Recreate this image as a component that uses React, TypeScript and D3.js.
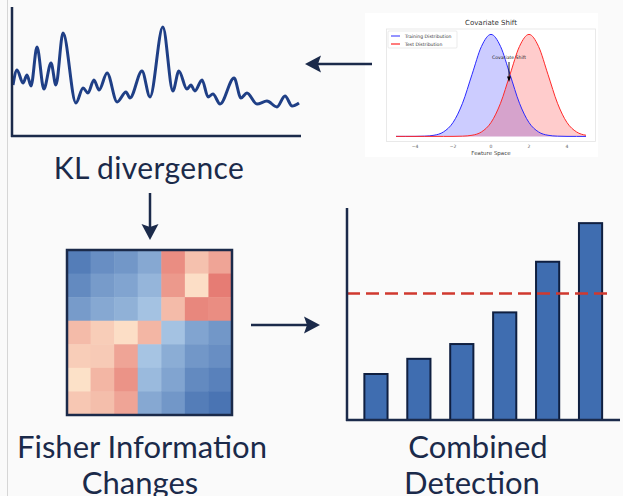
import React from "react";
import * as d3 from "d3";

const W = 623;
const H = 496;

// KL divergence trace (time step, value)
const klT = [0, 1.4, 3.5, 4.9, 6.3, 8.4, 10.8, 13.3, 15.0, 17.5, 22.0, 24.5, 26.2, 28.3, 30.1, 32.9, 36.4, 39.5, 40.9, 45.1, 47.9, 52.4, 55.9, 58.0, 60.8, 62.2, 63.6, 66.1, 68.2, 69.9, 72.4, 77.3, 79.7, 81.8, 85.3, 88.8, 92.3, 95.1, 97.6, 100];
const klV = [0.398, 0.516, 0.414, 0.477, 0.391, 0.695, 0.367, 0.57, 0.398, 0.805, 0.258, 0.375, 0.336, 0.438, 0.359, 0.492, 0.266, 0.344, 0.297, 0.508, 0.305, 0.852, 0.352, 0.508, 0.367, 0.398, 0.352, 0.438, 0.305, 0.328, 0.25, 0.453, 0.297, 0.336, 0.25, 0.273, 0.227, 0.313, 0.234, 0.258];

// Covariate shift inset densities
const featX = [-5, -4.5, -4, -3.5, -3, -2.5, -2, -1.5, -1, -0.5, 0, 0.5, 1, 1.5, 2, 2.5, 3, 3.5, 4, 4.5, 5];
const trainDens = [0, 0, 0.0001, 0.0009, 0.0044, 0.0175, 0.054, 0.1295, 0.242, 0.3521, 0.3989, 0.3521, 0.242, 0.1295, 0.054, 0.0175, 0.0044, 0.0009, 0.0001, 0, 0];
const testDens = [0, 0, 0, 0, 0, 0, 0.0001, 0.0009, 0.0044, 0.0175, 0.054, 0.1295, 0.242, 0.3521, 0.3989, 0.3521, 0.242, 0.1295, 0.054, 0.0175, 0.0044];
const featTicks = [-4, -2, 0, 2, 4];

// Fisher information change matrix
const fisher = [
  [-0.9, -0.7, -0.6, -0.4, 0.75, 0.3, 0.55],
  [-0.75, -0.55, -0.45, -0.25, 0.65, 0.05, 0.9],
  [-0.55, -0.4, -0.3, -0.1, 0.35, 0.8, 0.75],
  [0.35, 0.2, 0.05, 0.4, -0.1, -0.45, -0.6],
  [0.2, 0.22, 0.55, -0.08, -0.35, -0.6, -0.7],
  [0.03, 0.4, 0.7, -0.2, -0.45, -0.75, -0.85],
  [0.25, 0.33, 0.55, -0.4, -0.6, -0.9, -1.0],
];

// Combined detection scores
const detCats = ["1", "2", "3", "4", "5", "6"];
const detScores = [2.18, 2.9, 3.6, 5.1, 7.5, 9.33];
const detThreshold = 6;

const NAVY = "#1b2a4a";
const FONT = "Lato, 'Open Sans', sans-serif";

function ArrowH({ x1, x2, y }: { x1: number; x2: number; y: number }) {
  const dir = Math.sign(x2 - x1);
  const len = 16, hw = 8.5, notch = 3;
  const back = x2 - dir * len;
  const head = `M${x2},${y} L${back},${y - hw} L${back + dir * notch},${y} L${back},${y + hw} Z`;
  return (
    <g>
      <line x1={x1} y1={y} x2={back + dir * notch} y2={y} stroke={NAVY} strokeWidth={2.5} />
      <path d={head} fill={NAVY} />
    </g>
  );
}

function ArrowV({ x, y1, y2 }: { x: number; y1: number; y2: number }) {
  const len = 16, hw = 8.5, notch = 3;
  const back = y2 - len;
  const head = `M${x},${y2} L${x - hw},${back} L${x},${back + notch} L${x + hw},${back} Z`;
  return (
    <g>
      <line x1={x} y1={y1} x2={x} y2={back + notch} stroke={NAVY} strokeWidth={2.5} />
      <path d={head} fill={NAVY} />
    </g>
  );
}

export default function App() {
  // KL panel
  const klX = d3.scaleLinear().domain([0, 100]).range([13, 299]);
  const klY = d3.scaleLinear().domain([0, 1]).range([136, 8]);
  const klLine = d3
    .line<number>()
    .x((_, i) => klX(klT[i]))
    .y((d) => klY(d))
    .curve(d3.curveMonotoneX)(klV) as string;

  // Inset
  const fx = d3.scaleLinear().domain([-5.5, 5.5]).range([386.5, 595.5]);
  const fy = d3.scaleLinear().domain([-0.02, 0.42]).range([141.5, 29]);
  const area = (dens: number[]) =>
    d3
      .area<number>()
      .x((_, i) => fx(featX[i]))
      .y0(fy(0))
      .y1((d) => fy(d))
      .curve(d3.curveMonotoneX)(dens) as string;
  const line = (dens: number[]) =>
    d3
      .line<number>()
      .x((_, i) => fx(featX[i]))
      .y((d) => fy(d))
      .curve(d3.curveMonotoneX)(dens) as string;

  // Heatmap
  const idx = d3.range(7).map(String);
  const hx = d3.scaleBand().domain(idx).range([67, 232]);
  const hy = d3.scaleBand().domain(idx).range([250, 415]);
  const blue = d3.scaleLinear<string>().domain([0, 1]).range(["#aecbe7", "#4a74b3"]).interpolate(d3.interpolateRgb);
  const red = d3.scaleLinear<string>().domain([0, 1]).range(["#fde4cb", "#e3706a"]).interpolate(d3.interpolateRgb);
  const heatColor = (v: number) => (v < 0 ? blue(-v) : red(v));

  // Bars
  const bx = d3.scaleBand().domain(detCats).range([354.5, 612]).paddingInner(0.46).paddingOuter(0.23);
  const by = d3.scaleLinear().domain([0, 10]).range([420, 209]);

  const small = "'DejaVu Sans', sans-serif";

  return (
    <svg
      width={W}
      height={H}
      style={{ position: "fixed", left: 0, top: 0, display: "block" }}
      fontFamily={FONT}
    >
      <rect x={0} y={0} width={W} height={H} fill="#fafafa" />
      <line x1={7.5} y1={0} x2={7.5} y2={H} stroke="#d6d6d6" strokeWidth={1} />

      {/* KL panel */}
      <path d={klLine} fill="none" stroke="#1f3f86" strokeWidth={3} strokeLinejoin="round" />
      <line x1={12} y1={7} x2={12} y2={137} stroke={NAVY} strokeWidth={2.5} />
      <line x1={11} y1={136} x2={301} y2={136} stroke={NAVY} strokeWidth={2.5} />
      <text x={149} y={179} textAnchor="middle" fontSize={30} letterSpacing={0.4} fill={NAVY}>
        KL divergence
      </text>

      {/* Inset */}
      <rect x={365} y={13} width={233} height={144} fill="#ffffff" />
      <rect x={386.5} y={29} width={209} height={112.5} fill="none" stroke="#e4e4e4" strokeWidth={0.8} />
      <text x={491} y={25} textAnchor="middle" fontSize={7} fill="#333" fontFamily={small}>
        Covariate Shift
      </text>
      <path d={area(trainDens)} fill="rgba(0,0,255,0.2)" />
      <path d={area(testDens)} fill="rgba(255,0,0,0.2)" />
      <path d={line(trainDens)} fill="none" stroke="#2a2aff" strokeWidth={1} />
      <path d={line(testDens)} fill="none" stroke="#ff2a2a" strokeWidth={1} />
      {featTicks.map((t) => (
        <text key={t} x={fx(t)} y={147.5} textAnchor="middle" fontSize={4.5} fill="#555" fontFamily={small}>
          {t < 0 ? `\u2212${-t}` : t}
        </text>
      ))}
      <text x={491} y={155} textAnchor="middle" fontSize={5.5} fill="#444" fontFamily={small}>
        Feature Space
      </text>
      <rect x={388} y={31} width={69} height={17} fill="#fff" stroke="#dddddd" strokeWidth={0.6} rx={1} />
      <line x1={391} y1={36} x2={400} y2={36} stroke="#7070ff" strokeWidth={1.5} />
      <line x1={391} y1={44} x2={400} y2={44} stroke="#ff5050" strokeWidth={1.5} />
      <text x={405} y={37.8} fontSize={4.6} fill="#333" fontFamily={small}>Training Distribution</text>
      <text x={405} y={45.8} fontSize={4.6} fill="#333" fontFamily={small}>Test Distribution</text>
      <text x={509} y={59} textAnchor="middle" fontSize={4.6} fill="#222" fontFamily={small}>
        Covariate Shift
      </text>
      <line x1={509} y1={62} x2={509} y2={78} stroke="#000" strokeWidth={0.9} />
      <path d="M509,82 L507,76.5 L511,76.5 Z" fill="#000" />

      {/* Arrows */}
      <ArrowH x1={372} x2={305} y={64} />
      <ArrowV x={150} y1={193} y2={240} />
      <ArrowH x1={251} x2={320} y={325} />

      {/* Heatmap */}
      {fisher.map((row, r) =>
        row.map((v, c) => (
          <rect
            key={`${r}-${c}`}
            x={hx(String(c))!}
            y={hy(String(r))!}
            width={hx.bandwidth() + 0.5}
            height={hy.bandwidth() + 0.5}
            fill={heatColor(v)}
          />
        ))
      )}
      <rect x={67} y={250} width={165} height={165} fill="none" stroke={NAVY} strokeWidth={2.5} />
      <text x={142} y={458} textAnchor="middle" fontSize={31} fill={NAVY}>
        Fisher Information
      </text>
      <text x={140} y={494} textAnchor="middle" fontSize={31} fill={NAVY}>
        Changes
      </text>

      {/* Bars */}
      {detScores.map((v, i) => (
        <rect
          key={i}
          x={bx(detCats[i])!}
          y={by(v)}
          width={bx.bandwidth()}
          height={by(0) - by(v)}
          fill="#3f6db0"
          stroke="#0f1f40"
          strokeWidth={2}
        />
      ))}
      <line x1={347} y1={by(detThreshold)} x2={612} y2={by(detThreshold)} stroke="#d0392f" strokeWidth={2.5} strokeDasharray="13,6" />
      <line x1={347} y1={208} x2={347} y2={421} stroke={NAVY} strokeWidth={2.5} />
      <line x1={346} y1={420} x2={620} y2={420} stroke={NAVY} strokeWidth={2.5} />
      <text x={478} y={458} textAnchor="middle" fontSize={31} fill={NAVY}>
        Combined
      </text>
      <text x={472} y={494} textAnchor="middle" fontSize={31} fill={NAVY}>
        Detection
      </text>
    </svg>
  );
}
